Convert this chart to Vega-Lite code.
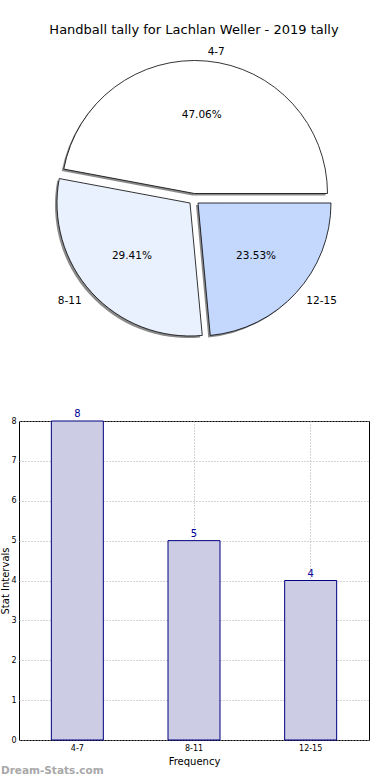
{
  "$schema": "https://vega.github.io/schema/vega-lite/v6.json",
  "background": "white",
  "padding": {"left": 0, "right": 0, "top": 24, "bottom": 0},
  "spacing": 51,
  "config": {"font": "DejaVu Sans", "view": {"stroke": null}},
  "datasets": {
    "tally": [
      {"range": "4-7", "count": 8, "pct": "47.06%"},
      {"range": "8-11", "count": 5, "pct": "29.41%"},
      {"range": "12-15", "count": 4, "pct": "23.53%"}
    ]
  },
  "vconcat": [
    {
      "width": 350,
      "height": 316,
      "title": {"text": "Handball tally for Lachlan Weller - 2019 tally", "fontSize": 13, "fontWeight": "normal", "color": "#000000", "offset": 4},
      "data": {"name": "tally"},
      "encoding": {
        "theta": {"field": "count", "type": "quantitative", "stack": true, "scale": {"range": [1.5708, -4.7124]}},
        "order": {"field": "count", "sort": "descending"}
      },
      "layer": [
        {"mark": {"type": "arc", "radius": 133, "fill": "#8a8a8a", "stroke": null, "xOffset": -1.5, "yOffset": -3.5},
         "encoding": {"fillOpacity": {"condition": {"test": "datum.range === '4-7'", "value": 1}, "value": 0}}},
        {"mark": {"type": "arc", "radius": 133, "fill": "#8a8a8a", "stroke": null, "xOffset": -6, "yOffset": 6},
         "encoding": {"fillOpacity": {"condition": {"test": "datum.range === '8-11'", "value": 1}, "value": 0}}},
        {"mark": {"type": "arc", "radius": 133, "fill": "#8a8a8a", "stroke": null, "xOffset": 2, "yOffset": 6},
         "encoding": {"fillOpacity": {"condition": {"test": "datum.range === '12-15'", "value": 1}, "value": 0}}},
        {"mark": {"type": "arc", "radius": 133, "stroke": "#000000", "strokeWidth": 0.8, "xOffset": 0.5, "yOffset": -5.5},
         "encoding": {
           "color": {"field": "range", "type": "nominal", "legend": null, "scale": {"domain": ["4-7", "8-11", "12-15"], "range": ["#ffffff", "#eaf1fe", "#c4d8fe"]}},
           "fillOpacity": {"condition": {"test": "datum.range === '4-7'", "value": 1}, "value": 0},
           "strokeOpacity": {"condition": {"test": "datum.range === '4-7'", "value": 1}, "value": 0}}},
        {"mark": {"type": "arc", "radius": 133, "stroke": "#000000", "strokeWidth": 0.8, "xOffset": -4, "yOffset": 4},
         "encoding": {
           "color": {"field": "range", "type": "nominal", "legend": null},
           "fillOpacity": {"condition": {"test": "datum.range === '8-11'", "value": 1}, "value": 0},
           "strokeOpacity": {"condition": {"test": "datum.range === '8-11'", "value": 1}, "value": 0}}},
        {"mark": {"type": "arc", "radius": 133, "stroke": "#000000", "strokeWidth": 0.8, "xOffset": 4, "yOffset": 4},
         "encoding": {
           "color": {"field": "range", "type": "nominal", "legend": null},
           "fillOpacity": {"condition": {"test": "datum.range === '12-15'", "value": 1}, "value": 0},
           "strokeOpacity": {"condition": {"test": "datum.range === '12-15'", "value": 1}, "value": 0}}},
        {"mark": {"type": "text", "radius": 84, "fontSize": 10.5, "color": "#000000"},
         "encoding": {"text": {"field": "pct", "type": "nominal"}}},
        {"mark": {"type": "text", "radius": 148, "fontSize": 10.5, "color": "#000000", "align": "left", "baseline": "middle"},
         "encoding": {"text": {"condition": {"test": "datum.range === '4-7'", "field": "range"}, "value": ""}}},
        {"mark": {"type": "text", "radius": 152, "fontSize": 10.5, "color": "#000000", "align": "right", "baseline": "middle"},
         "encoding": {"text": {"condition": {"test": "datum.range === '8-11'", "field": "range"}, "value": ""}}},
        {"mark": {"type": "text", "radius": 152, "fontSize": 10.5, "color": "#000000", "align": "left", "baseline": "middle"},
         "encoding": {"text": {"condition": {"test": "datum.range === '12-15'", "field": "range"}, "value": ""}}}
      ]
    },
    {
      "width": 350,
      "height": 319,
      "view": {"stroke": "#000000", "strokeWidth": 1},
      "title": {"text": "Dream-Stats.com", "orient": "bottom", "anchor": "start", "frame": "bounds", "fontSize": 10.5, "fontWeight": "bold", "color": "#a8a8a8", "offset": 0},
      "data": {"name": "tally"},
      "encoding": {
        "x": {"field": "range", "type": "nominal", "sort": ["4-7", "8-11", "12-15"],
              "scale": {"paddingInner": 0, "paddingOuter": 0},
              "axis": {"title": "Frequency", "titleFontSize": 10, "titleFontWeight": "normal", "titlePadding": 4, "labelAngle": 0, "labelFontSize": 8, "labelColor": "#000000", "labelPadding": 4, "domain": false, "ticks": false, "bandPosition": 0.5, "grid": true, "gridDash": [1, 2], "gridColor": "#aaaaaa", "gridWidth": 1, "gridOpacity": 1}},
        "y": {"field": "count", "type": "quantitative", "scale": {"domain": [0, 8], "nice": false},
              "axis": {"title": "Stat Intervals", "titleFontSize": 10, "titleFontWeight": "normal", "titlePadding": 0, "values": [0, 1, 2, 3, 4, 5, 6, 7, 8], "labelFontSize": 8, "labelColor": "#000000", "labelPadding": 3, "domain": false, "ticks": false, "grid": true, "gridDash": [1, 2], "gridColor": "#aaaaaa", "gridWidth": 1, "gridOpacity": 1}}
      },
      "layer": [
        {"mark": {"type": "bar", "size": 52, "fill": "#ccccE4", "stroke": "#000080", "strokeWidth": 1}},
        {"mark": {"type": "text", "dy": -7, "fontSize": 10, "color": "#000099"},
         "encoding": {"text": {"field": "count", "type": "quantitative"}}}
      ]
    }
  ]
}
